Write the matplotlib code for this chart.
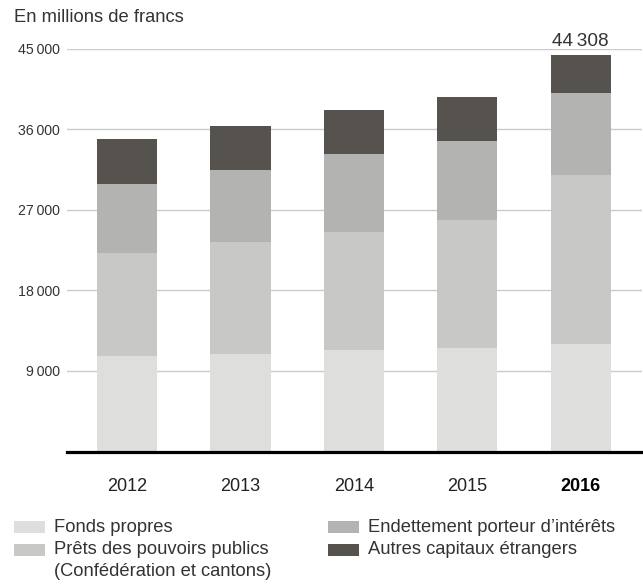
import numpy as np
import matplotlib
matplotlib.use("Agg")
import matplotlib.pyplot as plt
from matplotlib.patches import Rectangle

plt.rcParams['font.family'] = ['Liberation Sans', 'DejaVu Sans']

# data (millions CHF)
years = ['2012', '2013', '2014', '2015', '2016']
fonds_propres = [10670, 10890, 11340, 11600, 12010]
prets_publics = [11540, 12550, 13180, 14290, 18880]
endettement = [7700, 8010, 8710, 8790, 9160]
autres = [4990, 4910, 4920, 4920, 4258]
total_label = '44\u2009308'

series_names = [['Fonds propres'],
                ['Prêts des pouvoirs publics', '(Confédération et cantons)'],
                ['Endettement porteur d\u2019intérêts'],
                ['Autres capitaux étrangers']]
colors = ['#dededc', '#c8c8c6', '#b3b3b1', '#56524d']

W, H = 643, 586
fig = plt.figure(figsize=(W / 100, H / 100), dpi=100)
ax = fig.add_axes([67 / W, 1 - 451.5 / H, 575 / W, (451.5 - 48.7) / H])

x = np.arange(len(years))
bottom = np.zeros(len(years))
for vals, c in zip([fonds_propres, prets_publics, endettement, autres], colors):
    ax.bar(x, vals, width=0.53, bottom=bottom, color=c, zorder=2, linewidth=0)
    bottom += np.array(vals)

ax.set_xlim(-0.53, 4.54)
ax.set_ylim(0, 45000)
ticks = [9000, 18000, 27000, 36000, 45000]
ax.set_yticks(ticks)
ax.set_yticklabels([f'{t:,}'.replace(',', '\u2009') for t in ticks])
ax.yaxis.grid(True, color='#cbcbcb', linewidth=1.0, zorder=0)
ax.set_axisbelow(True)
ax.tick_params(axis='y', length=0, pad=5, labelsize=10.2, labelcolor='#333333')
ax.set_xticks(x)
ax.set_xticklabels(years)
ax.tick_params(axis='x', length=0, pad=19, labelsize=13, labelcolor='#222222')
ax.get_xticklabels()[-1].set_fontweight('bold')
ax.get_xticklabels()[-1].set_color('black')
for s in ax.spines.values():
    s.set_visible(False)
ax.axhline(0, color='black', linewidth=2.3, zorder=3, clip_on=False)

ax.text(x[-1], bottom[-1] + 600, total_label, ha='center', va='bottom',
        fontsize=13.7, color='#333333', clip_on=False)

fig.text(14 / W, 1 - 17 / H, 'En millions de francs', ha='left', va='center',
         fontsize=13.2, color='#333333')

# legend, drawn by hand in two columns
leg_pos = [(14, 527), (14, 550), (328, 527), (328, 550)]
for (px, py), lines, c in zip(leg_pos, series_names, colors):
    fig.add_artist(Rectangle((px / W, 1 - (py + 6) / H), 31 / W, 12 / H,
                             transform=fig.transFigure, color=c, linewidth=0))
    for i, line in enumerate(lines):
        fig.text((px + 40) / W, 1 - (py + 21 * i) / H, line, ha='left', va='center',
                 fontsize=13.2, color='#333333')

fig.savefig('out.png', dpi=100)
